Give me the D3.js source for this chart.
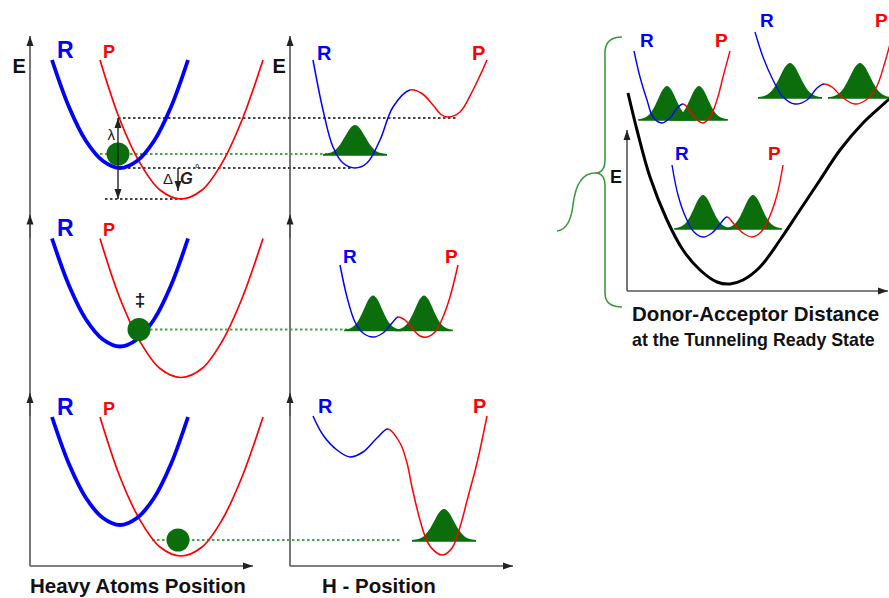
<!DOCTYPE html>
<html>
<head>
<meta charset="utf-8">
<script src="https://cdn.jsdelivr.net/npm/d3@7"></script>
<style>
body { margin: 0; background: #fff; }
svg { display: block; font-family: "Liberation Sans", Arial, sans-serif; font-weight: bold; }
</style>
</head>
<body>
<svg id="fig" width="889" height="598"></svg>
<script>
// ---- data: x in position units, y in energy units ----
var rowNames = ["reactant", "tunneling", "product"];

// heavy-atom potentials (same in every row)
var heavyR = [[4.4,27.8],[7.8,18.4],[11.2,11.6],[14.6,7.6],[18,6.2],[21.4,7.6],[24.8,11.6],[28.2,18.4],[31.6,27.8]];
var heavyP = [[14,27.8],[18,15.8],[22,7.2],[26,1.8],[30.2,0],[34.4,1.8],[38.4,7.2],[42.4,15.8],[46.6,27.8]];
var ballPos = [[17.6,9.0],[21.8,9.6],[29.6,3.2]];

// H-position double wells, one per row (R part ends where P part starts)
var hWellR = [
    [[4.6,27.8],[6.6,17.8],[8.6,10.4],[10.6,7.2],[13,6.2],[15.4,7.2],[18,11.8],[20.6,18.4],[24,21.8]],
    [[10,22.5],[11.4,16.1],[13,11.1],[14.6,8.9],[16.6,8.1],[18.6,8.9],[20.4,10.9],[21.6,12.1]],
    [[4.6,28],[6.6,24.2],[9.4,21.2],[12,19.8],[14.6,20.8],[17.4,23.6],[19.6,25.4]]
];
var hWellP = [
    [[24,21.8],[26.4,21.1],[28.6,18.8],[30.2,16.9],[31.6,16.4],[34,17.4],[36.6,21.8],[39.4,27.8]],
    [[21.6,12.1],[23,11.5],[24.4,9.9],[26,8.3],[27.4,8.1],[29,9.1],[30.6,12.1],[32,16.1],[33.6,22.5]],
    [[19.6,25.4],[22,22.6],[23.4,18.6],[24.4,13.8],[26,7.2],[27.6,2.6],[29.4,0.6],[30.6,0.2],[32.4,1.6],[34,5.8],[35.6,11.8],[37.4,18.6],[39.4,28]]
];
var wavePeaks = [[13], [16.6, 26.8], [30.8]];
var waveLevel = [9.0, 9.6, 3.2];
var waveHeight = [5.8, 6.8, 6.2];
var waveSigma = [2.0, 1.8, 2.0];
var greenFrom = [13, 24, 24.4];      // heavy x
var greenTo = [7.4, 11.4, 22.4];     // H x

// bell profile of a proton wave function (x in widths, relative height)
var bell = [[-3.2,0],[-2.5,0.04],[-2,0.13],[-1.5,0.32],[-1,0.6],[-0.5,0.88],[0,1],[0.5,0.88],[1,0.6],[1.5,0.32],[2,0.13],[2.5,0.04],[3.2,0]];

// reference energies of the first row (lambda top, reactant min, product min)
var levelE = [16.2, 6.2, 0];
var levelFrom = [17.6, 17.6, 15];
var levelTo = [33.4, 12.4, 31];
var levelToPanel = ["h", "h", "heavy"];

// donor-acceptor distance inset
var dacCurve = [[0.2,39.6],[2,32.2],[4.6,22.8],[8,14.2],[11.2,8.2],[14.6,4.2],[18,1.8],[20.6,1.4],[23.2,2.2],[26.6,4.8],[30.6,10.2],[34.6,16.2],[38.6,22.2],[42.6,28.2],[47.2,33.6],[52.2,38.2],[54.6,40.6]];
var miniR = [
    [[1.4,48],[2.6,42.8],[4,38.2],[5.2,34.8],[7,33.6],[8.6,34.6],[10,36.6],[11.2,37.4]],
    [[25.6,51.8],[27.2,46.8],[29.2,42.2],[31.2,38.8],[33.6,37.4],[36,38.2],[38,40.6],[39.4,41.4]],
    [[9,25.2],[10.2,19.2],[11.8,14.6],[13.4,11.8],[15.2,10.8],[17,11.6],[18.6,13.4],[20,14.8]]
];
var miniP = [
    [[11.2,37.4],[12.2,36.6],[13.6,34.6],[15.2,33.6],[16.6,34.8],[18,38.2],[19.2,42.8],[20.6,48]],
    [[39.4,41.4],[41,40.8],[43,38.8],[45.6,37.4],[47.8,38.2],[49.8,40.6],[51.6,45.8],[53.2,51.8]],
    [[20,14.8],[21.4,13.4],[23.2,11.6],[25,10.8],[26.8,11.8],[28.4,14.6],[30,19.2],[31.2,25.2]]
];
var miniPeaks = [[8, 14.4], [32.6, 46.6], [15.2, 25.2]];
var miniLevel = [34.4, 38.8, 12.6];
var miniHeight = [6.6, 6.8, 6.6];
var miniSigma = [1.8, 2.0, 1.8];

// ---- layout ----
var BLUE = "#0000ff", RED = "#ff0000", GREEN = "#0b6d0b", DOT_GREEN = "#46a546", AXIS = "#555";

var svg = d3.select("#fig");
var heavyX = d3.scaleLinear().domain([0, 45]).range([30, 255]);
var hX = d3.scaleLinear().domain([0, 45]).range([290, 515]);
var rowY = rowNames.map(function(d, i) {
    return d3.scaleLinear().domain([0, 30]).range([199 + 178.5 * i, 49 + 178.5 * i]);
});
var inX = d3.scaleLinear().domain([0, 52]).range([627, 887]);
var inY = d3.scaleLinear().domain([0, 50]).range([291, 41]);

var defs = svg.append("defs");
defs.append("marker").attr("id", "arr")
    .attr("markerUnits", "userSpaceOnUse")
    .attr("markerWidth", 11).attr("markerHeight", 8)
    .attr("refX", 10).attr("refY", 4)
    .attr("orient", "auto-start-reverse")
    .append("path").attr("d", "M0,0.5L10,4L0,7.5Z").attr("fill", "#222");

function line(xs, ys) {
    return d3.line().curve(d3.curveCatmullRom.alpha(0.5))
        .x(function(d) { return xs(d[0]); })
        .y(function(d) { return ys(d[1]); });
}

var wellCount = 0;
// one smooth path, blue left of the barrier top and red right of it
function well(g, xs, ys, rPts, pPts, width) {
    var id = "well" + (wellCount++);
    var jx = xs(pPts[0][0]);
    var grad = defs.append("linearGradient").attr("id", id)
        .attr("gradientUnits", "userSpaceOnUse")
        .attr("x1", jx - 0.5).attr("x2", jx + 0.5).attr("y1", 0).attr("y2", 0);
    grad.append("stop").attr("offset", 0.5).attr("stop-color", BLUE);
    grad.append("stop").attr("offset", 0.5).attr("stop-color", RED);
    g.append("path")
        .attr("d", line(xs, ys)(rPts.concat(pPts.slice(1))))
        .attr("fill", "none")
        .attr("stroke", "url(#" + id + ")")
        .attr("stroke-width", width);
}

function bells(g, xs, ys, centers, level, height, sigma) {
    var area = d3.area().curve(d3.curveMonotoneX)
        .x(function(d) { return xs(d.x); })
        .y0(ys(level - 0.35))
        .y1(function(d) { return ys(level + d.h * height); });
    centers.forEach(function(c) {
        g.append("path")
            .datum(bell.map(function(b) { return {x: c + b[0] * sigma, h: b[1]}; }))
            .attr("d", area)
            .attr("fill", GREEN);
    });
}

function label(x, y, txt, color, size, anchor) {
    return svg.append("text")
        .attr("x", x).attr("y", y)
        .attr("fill", color)
        .style("font-size", size + "px")
        .style("text-anchor", anchor || "start")
        .text(txt);
}

// axes of the two columns
var axes = svg.append("g").attr("stroke", AXIS).attr("stroke-width", 1.6);
[heavyX, hX].forEach(function(xs) {
    axes.append("line")
        .attr("x1", xs(0)).attr("x2", xs(0))
        .attr("y1", rowY[2](-2)).attr("y2", rowY[0](32.6))
        .attr("marker-end", "url(#arr)");
    [1, 2].forEach(function(i) {
        axes.append("line")
            .attr("x1", xs(0)).attr("x2", xs(0))
            .attr("y1", rowY[i](28)).attr("y2", rowY[i](32.6))
            .attr("marker-end", "url(#arr)");
    });
    axes.append("line")
        .attr("x1", xs(0)).attr("x2", xs(44.6))
        .attr("y1", rowY[2](-2)).attr("y2", rowY[2](-2))
        .attr("marker-end", "url(#arr)");
});

// reference energy lines (row 1)
var dots = svg.append("g").attr("fill", "none").attr("stroke-width", 1.8).attr("stroke-dasharray", "2.5,2.5");
levelE.forEach(function(e, k) {
    var x2 = levelToPanel[k] == "h" ? hX(levelTo[k]) : heavyX(levelTo[k]);
    dots.append("line")
        .attr("x1", heavyX(levelFrom[k])).attr("x2", x2)
        .attr("y1", rowY[0](e)).attr("y2", rowY[0](e))
        .attr("stroke", "#444");
});
rowNames.forEach(function(r, i) {
    dots.append("line")
        .attr("x1", heavyX(greenFrom[i])).attr("x2", hX(greenTo[i]))
        .attr("y1", rowY[i](waveLevel[i])).attr("y2", rowY[i](waveLevel[i]))
        .attr("stroke", DOT_GREEN);
});

// rows
rowNames.forEach(function(r, i) {
    var ys = rowY[i];
    var g = svg.append("g").attr("class", "row " + r).attr("fill", "none");
    bells(g, hX, ys, wavePeaks[i], waveLevel[i], waveHeight[i], waveSigma[i]);
    g.append("path").attr("d", line(heavyX, ys)(heavyP)).attr("stroke", RED).attr("stroke-width", 1.7);
    g.append("path").attr("d", line(heavyX, ys)(heavyR)).attr("stroke", BLUE).attr("stroke-width", 3.8);
    well(g, hX, ys, hWellR[i], hWellP[i], 1.5);
    g.append("circle")
        .attr("cx", heavyX(ballPos[i][0])).attr("cy", ys(ballPos[i][1]))
        .attr("r", 11.5).attr("fill", GREEN);

    label(heavyX(5.4), ys(28.3), "R", BLUE, 23);
    label(heavyX(14.6), ys(28.3), "P", RED, 18);
});

// right column labels
label(hX(5.4), rowY[0](27.8), "R", BLUE, 20);
label(hX(36.4), rowY[0](27.8), "P", RED, 20);
label(hX(10.6), rowY[1](22.9), "R", BLUE, 19);
label(hX(31), rowY[1](22.9), "P", RED, 19);
label(hX(5.6), rowY[2](28.6), "R", BLUE, 20);
label(hX(36.6), rowY[2](28.6), "P", RED, 20);
label(heavyX(-3.5), rowY[0](25.2), "E", "#111", 20);
label(hX(-3.5), rowY[0](25.2), "E", "#111", 20);

// lambda and deltaG arrows
var lamX = heavyX(ballPos[0][0]), dgX = heavyX(29.6);
svg.append("line")
    .attr("x1", lamX).attr("x2", lamX)
    .attr("y1", rowY[0](levelE[2])).attr("y2", rowY[0](levelE[0]))
    .attr("stroke", "#222").attr("stroke-width", 1.4)
    .attr("marker-start", "url(#arr)").attr("marker-end", "url(#arr)");
svg.append("line")
    .attr("x1", dgX).attr("x2", dgX)
    .attr("y1", rowY[0](levelE[1])).attr("y2", rowY[0](1.6))
    .attr("stroke", "#222").attr("stroke-width", 1.4)
    .attr("marker-end", "url(#arr)");
label(lamX - 3, rowY[0](11.8), "\u03bb", "#222", 15, "end").style("font-weight", "normal");
label(dgX - 15, rowY[0](3), "\u0394", "#222", 15).style("font-weight", "normal");
label(dgX + 2, rowY[0](3), "G", "#222", 16.5).style("font-style", "italic");
label(dgX + 17, rowY[0](5.4), "\u00b0", "#555", 11);
label(heavyX(22), rowY[1](14.3), "\u2021", "#111", 19, "middle");

// column titles
label(heavyX(0), 593, "Heavy Atoms Position", "#111", 20.5);
label(hX(6.4), 593, "H - Position", "#111", 20.5);

// ---- inset ----
var inset = svg.append("g").attr("fill", "none");
inset.append("line")
    .attr("x1", inX(0)).attr("x2", inX(0)).attr("y1", inY(0)).attr("y2", inY(32.2))
    .attr("stroke", AXIS).attr("stroke-width", 1.6).attr("marker-end", "url(#arr)");
inset.append("line")
    .attr("x1", inX(0)).attr("x2", inX(52.2)).attr("y1", inY(0)).attr("y2", inY(0))
    .attr("stroke", AXIS).attr("stroke-width", 1.6).attr("marker-end", "url(#arr)");
inset.append("path").attr("d", line(inX, inY)(dacCurve)).attr("stroke", "#000").attr("stroke-width", 3);

miniR.forEach(function(m, k) {
    bells(inset, inX, inY, miniPeaks[k], miniLevel[k], miniHeight[k], miniSigma[k]);
    well(inset, inX, inY, miniR[k], miniP[k], 1.4);
});
label(inX(2.6), inY(48.8), "R", BLUE, 19);
label(inX(17.6), inY(48.8), "P", RED, 19);
label(inX(26.6), inY(52.8), "R", BLUE, 19);
label(inX(49.6), inY(52.8), "P", RED, 19);
label(inX(9.6), inY(26.2), "R", BLUE, 19);
label(inX(28.2), inY(26.2), "P", RED, 19);
label(inX(-3.4), inY(21.6), "E", "#111", 18);

// green brace
var bx = inX(-4.4), jx = inX(-6.4), jy = inY(23.6);
var brace = d3.path();
brace.moveTo(inX(-1), inY(50.8));
brace.quadraticCurveTo(bx, inY(50.8), bx, inY(47.6));
brace.lineTo(bx, inY(26.2));
brace.quadraticCurveTo(bx, jy, jx, jy);
brace.bezierCurveTo(inX(-9.4), jy, inX(-10.4), inY(20.6), inX(-10.8), inY(17.2));
brace.bezierCurveTo(inX(-11.2), inY(13.8), inX(-12.2), inY(12.2), inX(-14), inY(12));
brace.moveTo(jx, jy);
brace.quadraticCurveTo(bx, jy, bx, inY(21));
brace.lineTo(bx, inY(-0.4));
brace.quadraticCurveTo(bx, inY(-3.2), inX(-1), inY(-3.2));
inset.append("path").attr("d", brace.toString()).attr("stroke", "#3f9a3f").attr("stroke-width", 1.6);

label(inX(1), inY(-6), "Donor-Acceptor Distance", "#111", 20.5);
label(inX(1), inY(-11), "at the Tunneling Ready State", "#111", 17.8);
</script>
</body>
</html>
